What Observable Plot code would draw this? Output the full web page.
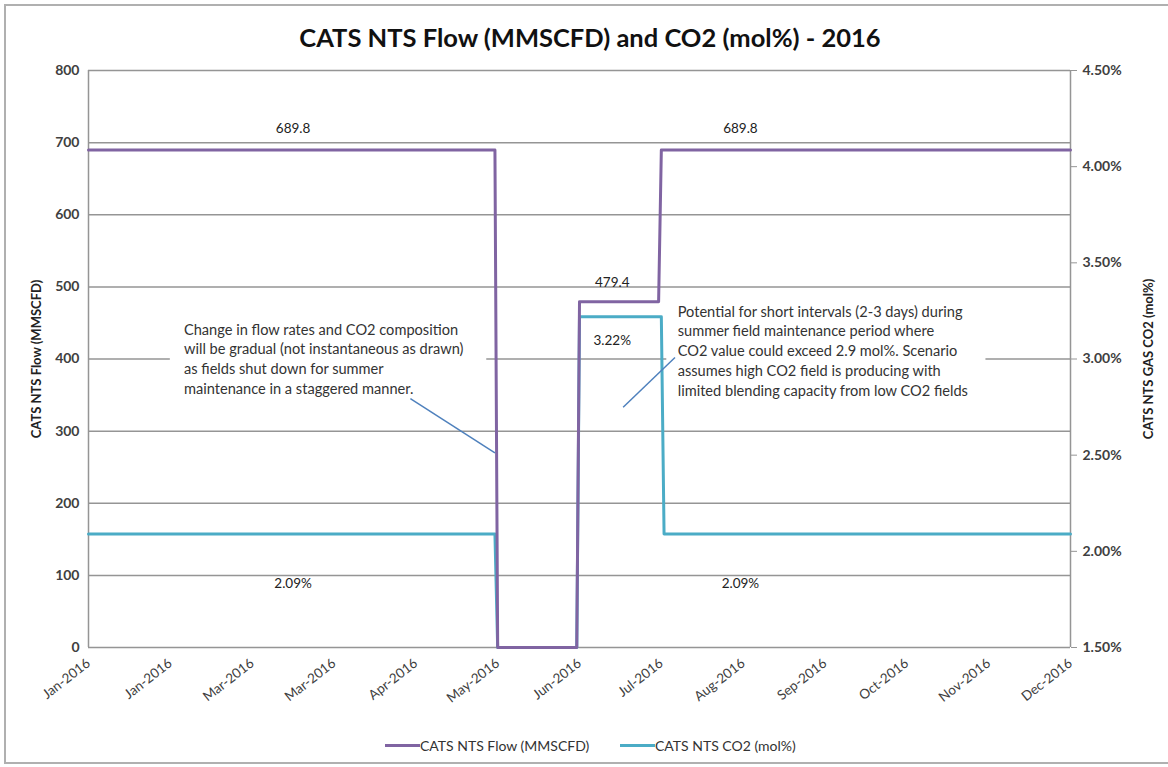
<!DOCTYPE html>
<html>
<head>
<meta charset="utf-8">
<script src="https://cdn.jsdelivr.net/npm/d3@7"></script>
<script src="https://cdn.jsdelivr.net/npm/@observablehq/plot@0.6"></script>
<style>
  html, body { margin: 0; padding: 0; background: #fff; }
  #wrap { position: relative; width: 1168px; height: 767px; overflow: hidden; font-family: Lato, "Open Sans", sans-serif; }
  #border { position: absolute; left: 4px; top: 4px; width: 1180px; height: 760px; border-left: 2px solid #b0b0b0; border-top: 2px solid #b0b0b0; border-bottom: 2px solid #b0b0b0; box-sizing: border-box; }
  #title { position: absolute; top: 19px; left: 0; width: 1168px; padding-left: 12px; box-sizing: border-box; text-align: center; font-weight: bold; font-size: 25.5px; color: #111; line-height: 36px; }
  #chart { position: absolute; top: 56px; left: 0; }
  #legend { position: absolute; top: 736px; left: 385px; font-size: 14px; color: #333; display: flex; align-items: center; height: 18px; }
  .sw { display: inline-block; width: 35px; height: 3px; }
  .item { display: flex; align-items: center; }
</style>
</head>
<body>
<div id="wrap">
  <div id="border"></div>
  <div id="title">CATS NTS Flow (MMSCFD) and CO2 (mol%) - 2016</div>
  <div id="chart"></div>
  <div id="legend">
    <div class="item" style="width:235px"><span class="sw" style="background:#8064A2"></span><span>CATS NTS Flow (MMSCFD)</span></div>
    <div class="item"><span class="sw" style="background:#4BACC6"></span><span>CATS NTS CO2 (mol%)</span></div>
  </div>
</div>
<script>
// ---- data ----
const flowDates  = ["2016-01-01","2016-05-29","2016-05-30","2016-06-28","2016-06-29","2016-07-28","2016-07-29","2016-12-26"];
const flowValues = [689.8, 689.8, 0, 0, 479.4, 479.4, 689.8, 689.8];
const co2Dates   = ["2016-01-01","2016-05-29","2016-05-30","2016-06-28","2016-06-29","2016-07-29","2016-07-30","2016-12-26"];
const co2Values  = [2.09, 2.09, 1.50, 1.50, 3.22, 3.22, 2.09, 2.09];
const xTickDates = ["2016-01-01","2016-01-31","2016-03-01","2016-03-31","2016-04-30","2016-05-30","2016-06-29","2016-07-29","2016-08-28","2016-09-27","2016-10-27","2016-11-26","2016-12-26"];
const flowTicks  = [0, 100, 200, 300, 400, 500, 600, 700, 800];
const co2Ticks   = [1.5, 2.0, 2.5, 3.0, 3.5, 4.0, 4.5];
const flowLabelDates  = ["2016-03-16","2016-08-27"];
const flowLabelValues = [689.8, 689.8];
const co2LabelDates   = ["2016-03-16","2016-08-27"];
const co2LabelValues  = [2.09, 2.09];
const peakLabelDate   = "2016-07-11";
const peakFlow = 479.4;
const peakCo2  = 3.22;
const note1 = "Change in flow rates and CO2 composition\nwill be gradual (not instantaneous as drawn)\nas fields shut down for summer\nmaintenance in a staggered manner.";
const note2 = "Potential for short intervals (2-3 days) during\nsummer field maintenance period where\nCO2 value could exceed 2.9 mol%. Scenario\nassumes high CO2 field is producing with\nlimited blending capacity from low CO2 fields";
// annotation anchors in data units
const note1Pos = {x: "2016-02-05", y: 453};
const note1Box = {x1: "2016-01-31", x2: "2016-05-26", y1: 342, y2: 458};
const note1Lead = {x1: "2016-04-28", y1: 345, x2: "2016-05-29", y2: 270};
const note2Pos = {x: "2016-08-04", y: 478};
const note2Box = {x1: "2016-07-31", x2: "2016-11-25", y1: 338, y2: 482};
const note2Lead = {x1: "2016-08-03", y1: 402, x2: "2016-07-15", y2: 333};

// ---- helpers ----
const parse = d3.utcParse("%Y-%m-%d");
const co2Min = 1.5, co2Max = 4.5, flowMax = 800;
const toFlow = v => (v - co2Min) / (co2Max - co2Min) * flowMax;
const fromFlow = f => co2Min + f / flowMax * (co2Max - co2Min);

const flow = flowDates.map((d, i) => ({date: parse(d), value: flowValues[i]}));
const co2  = co2Dates.map((d, i) => ({date: parse(d), value: toFlow(co2Values[i])}));
const xDomain = [parse(xTickDates[0]), parse(xTickDates[xTickDates.length - 1])];
const fmt = d3.utcFormat("%b-%Y");

const purple = "#8064A2", cyan = "#4BACC6", grid = "#959595", txt = "#333";

const chart = Plot.plot({
  width: 1168,
  height: 651,
  marginTop: 14,
  marginBottom: 60,
  marginLeft: 88,
  marginRight: 98,
  style: {fontFamily: "Lato, 'Open Sans', sans-serif", fontSize: "14px", color: "#404040", background: "transparent", overflow: "visible"},
  x: {type: "utc", domain: xDomain},
  y: {domain: [0, flowMax]},
  marks: [
    Plot.ruleY(flowTicks, {stroke: grid, strokeWidth: 1.5}),
    Plot.ruleX([xDomain[0], xDomain[1]], {stroke: grid, strokeWidth: 1.5}),
    Plot.rect([note1Box, note2Box], {x1: d => parse(d.x1), x2: d => parse(d.x2), y1: "y1", y2: "y2", fill: "white"}),
    Plot.line(co2, {x: "date", y: "value", stroke: cyan, strokeWidth: 3, curve: "linear"}),
    Plot.line(flow, {x: "date", y: "value", stroke: purple, strokeWidth: 3, curve: "linear"}),
    Plot.link([note1Lead, note2Lead], {x1: d => parse(d.x1), x2: d => parse(d.x2), y1: "y1", y2: "y2", stroke: "#4F81BD", strokeWidth: 1.5}),
    Plot.text([note1Pos], {x: d => parse(d.x), y: "y", text: () => note1, textAnchor: "start", lineAnchor: "top", lineHeight: 1.35, fill: txt, fontSize: 14.6}),
    Plot.text([note2Pos], {x: d => parse(d.x), y: "y", text: () => note2, textAnchor: "start", lineAnchor: "top", lineHeight: 1.35, fill: txt, fontSize: 14.6}),
    Plot.text(flowLabelDates, {x: d => parse(d), y: (d, i) => flowLabelValues[i], text: (d, i) => flowLabelValues[i].toFixed(1), dy: -21, fill: "#222", fontSize: 13.5}),
    Plot.text(co2LabelDates, {x: d => parse(d), y: (d, i) => toFlow(co2LabelValues[i]), text: (d, i) => co2LabelValues[i].toFixed(2) + "%", dy: 50, fill: "#222", fontSize: 13.5}),
    Plot.text([peakLabelDate], {x: d => parse(d), y: () => peakFlow, text: () => peakFlow.toFixed(1), dy: -19, fill: "#222", fontSize: 13.5}),
    Plot.text([peakLabelDate], {x: d => parse(d), y: () => toFlow(peakCo2), text: () => peakCo2.toFixed(2) + "%", dy: 24, fill: "#222", fontSize: 13.5}),
    Plot.axisX({ticks: xTickDates.map(parse), tickFormat: fmt, tickSize: 0, tickPadding: 14, tickRotate: -38, label: null, fontSize: 13.5}),
    Plot.axisY({anchor: "left", ticks: flowTicks, tickSize: 0, tickPadding: 9, label: null, fontWeight: "bold"}),
    Plot.axisY(co2Ticks.map(toFlow), {anchor: "right", tickSize: 6, tickPadding: 6, stroke: grid, tickFormat: v => fromFlow(v).toFixed(2) + "%", label: null, fontWeight: "bold"}),
    Plot.text(["CATS NTS Flow (MMSCFD)"], {frameAnchor: "left", text: d => d, textAnchor: "middle", rotate: -90, dx: -52, fontWeight: "bold", fontSize: 13, fill: "#222"}),
    Plot.text(["CATS NTS GAS CO2 (mol%)"], {frameAnchor: "right", text: d => d, textAnchor: "middle", rotate: -90, dx: 78, fontWeight: "bold", fontSize: 13, fill: "#222"})
  ]
});
document.getElementById("chart").appendChild(chart);
</script>
</body>
</html>
